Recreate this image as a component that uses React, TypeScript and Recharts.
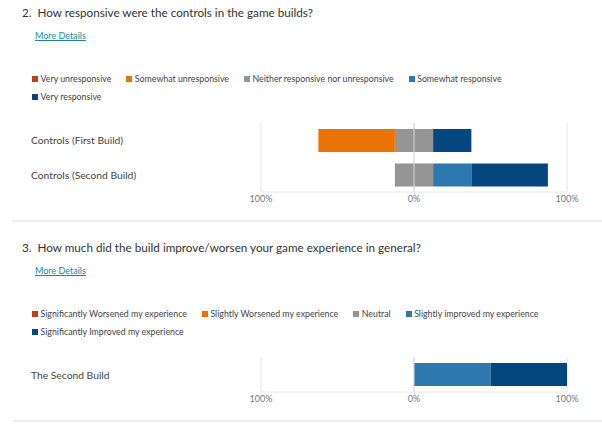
import { type ReactElement } from 'react'
import { BarChart, Bar, XAxis, YAxis, CartesianGrid, ReferenceLine } from 'recharts'

// question 2
const controlRows = ['Controls (First Build)', 'Controls (Second Build)']
const controlLegend = [
  'Very unresponsive',
  'Somewhat unresponsive',
  'Neither responsive nor unresponsive',
  'Somewhat responsive',
  'Very responsive',
]
const veryUnresponsive = [0, 0]
const somewhatUnresponsive = [50, 0]
const neitherResponsive = [25, 25]
const somewhatResponsive = [0, 25]
const veryResponsive = [25, 50]

// question 3
const experienceRows = ['The Second Build']
const experienceLegend = [
  'Significantly Worsened my experience',
  'Slightly Worsened my experience',
  'Neutral',
  'Slightly improved my experience',
  'Significantly Improved my experience',
]
const sigWorsened = [0]
const slightWorsened = [0]
const neutralExp = [0]
const slightImproved = [50]
const sigImproved = [50]

const axisTicks = [-100, 0, 100]

const COLORS = ['#c43e1c', '#ea7304', '#959595', '#2e78b0', '#04477f']
const FONT = "Lato, 'Noto Sans', sans-serif"

interface Row {
  label: string
  strongNeg: number
  weakNeg: number
  midNeg: number
  midPos: number
  weakPos: number
  strongPos: number
}

function buildRows(labels: string[], series: number[][]): Row[] {
  return labels.map((label, i) => ({
    label,
    strongNeg: -series[0][i],
    weakNeg: -series[1][i],
    midNeg: -series[2][i] / 2,
    midPos: series[2][i] / 2,
    weakPos: series[3][i],
    strongPos: series[4][i],
  }))
}

function RowTick(props: any) {
  const { y, payload } = props
  return (
    <text x={31} y={y} dy={4} fontSize={10.3} fill="#444" fontFamily={FONT} textAnchor="start">
      {payload.value}
    </text>
  )
}

function Legend({ items, top }: { items: string[]; top: number }) {
  return (
    <div
      style={{
        position: 'absolute',
        left: 32,
        top,
        width: 540,
        display: 'flex',
        flexWrap: 'wrap',
        columnGap: 15,
        rowGap: 2,
        fontFamily: FONT,
        fontSize: 8.8,
        color: '#444',
        lineHeight: '16px',
      }}
    >
      {items.map((t, i) => (
        <div key={t} style={{ display: 'flex', alignItems: 'center' }}>
          <span style={{ width: 6, height: 6, background: COLORS[i], marginRight: 2.5 }} />
          {t}
        </div>
      ))}
    </div>
  )
}

function Chart({ rows, top, height }: { rows: Row[]; top: number; height: number }) {
  return (
    <div style={{ position: 'absolute', left: 0, top }}>
      <BarChart
        width={602}
        height={height}
        data={rows}
        layout="vertical"
        stackOffset="sign"
        barSize={23}
        margin={{ top: 8, right: 35, bottom: 0, left: 0 }}
      >
        <CartesianGrid horizontal={false} stroke="#e6e6e6" />
        <XAxis
          type="number"
          domain={[-100, 100]}
          ticks={axisTicks}
          tickFormatter={(v: number) => `${Math.abs(v)}%`}
          axisLine={{ stroke: '#e6e6e6' }}
          tickLine={false}
          tickSize={0}
          tickMargin={4}
          height={18}
          tick={{ fill: '#777', fontSize: 9, fontFamily: FONT }}
        />
        <YAxis type="category" dataKey="label" width={261} axisLine={false} tickLine={false} tick={<RowTick />} />
        <Bar dataKey="midNeg" stackId="a" fill={COLORS[2]} isAnimationActive={false} />
        <Bar dataKey="weakNeg" stackId="a" fill={COLORS[1]} isAnimationActive={false} />
        <Bar dataKey="strongNeg" stackId="a" fill={COLORS[0]} isAnimationActive={false} />
        <Bar dataKey="midPos" stackId="a" fill={COLORS[2]} isAnimationActive={false} />
        <Bar dataKey="weakPos" stackId="a" fill={COLORS[3]} isAnimationActive={false} />
        <Bar dataKey="strongPos" stackId="a" fill={COLORS[4]} isAnimationActive={false} />
        <ReferenceLine x={0} stroke="#d8d8d8" />
      </BarChart>
    </div>
  )
}

function Question({ title, top }: { title: string; top: number }) {
  return (
    <>
      <div
        style={{
          position: 'absolute',
          left: 22,
          top: top - 9,
          fontFamily: FONT,
          fontSize: 11.7,
          lineHeight: '18px',
          color: '#333',
          whiteSpace: 'pre',
        }}
      >
        {title}
      </div>
      <div
        style={{
          position: 'absolute',
          left: 35,
          top: top + 17,
          fontFamily: FONT,
          fontSize: 9,
          lineHeight: '14px',
          color: '#1a8a96',
          textDecoration: 'underline',
        }}
      >
        More Details
      </div>
    </>
  )
}

export default function App(): ReactElement {
  const controlData = buildRows(controlRows, [
    veryUnresponsive,
    somewhatUnresponsive,
    neitherResponsive,
    somewhatResponsive,
    veryResponsive,
  ])
  const experienceData = buildRows(experienceRows, [
    sigWorsened,
    slightWorsened,
    neutralExp,
    slightImproved,
    sigImproved,
  ])

  return (
    <div style={{ position: 'absolute', left: 0, top: 0, width: 602, height: 426, background: '#fff', overflow: 'hidden' }}>
      <Question title="2.  How responsive were the controls in the game builds?" top={12} />
      <Legend items={controlLegend} top={71} />
      <Chart rows={controlData} top={115} height={95} />
      <div style={{ position: 'absolute', left: 12, top: 220, width: 590, height: 2, background: '#ededed' }} />
      <Question title="3.  How much did the build improve/worsen your game experience in general?" top={247} />
      <Legend items={experienceLegend} top={306} />
      <Chart rows={experienceData} top={349} height={61} />
      <div style={{ position: 'absolute', left: 14, top: 420, width: 588, height: 2, background: '#ededed' }} />
    </div>
  )
}
